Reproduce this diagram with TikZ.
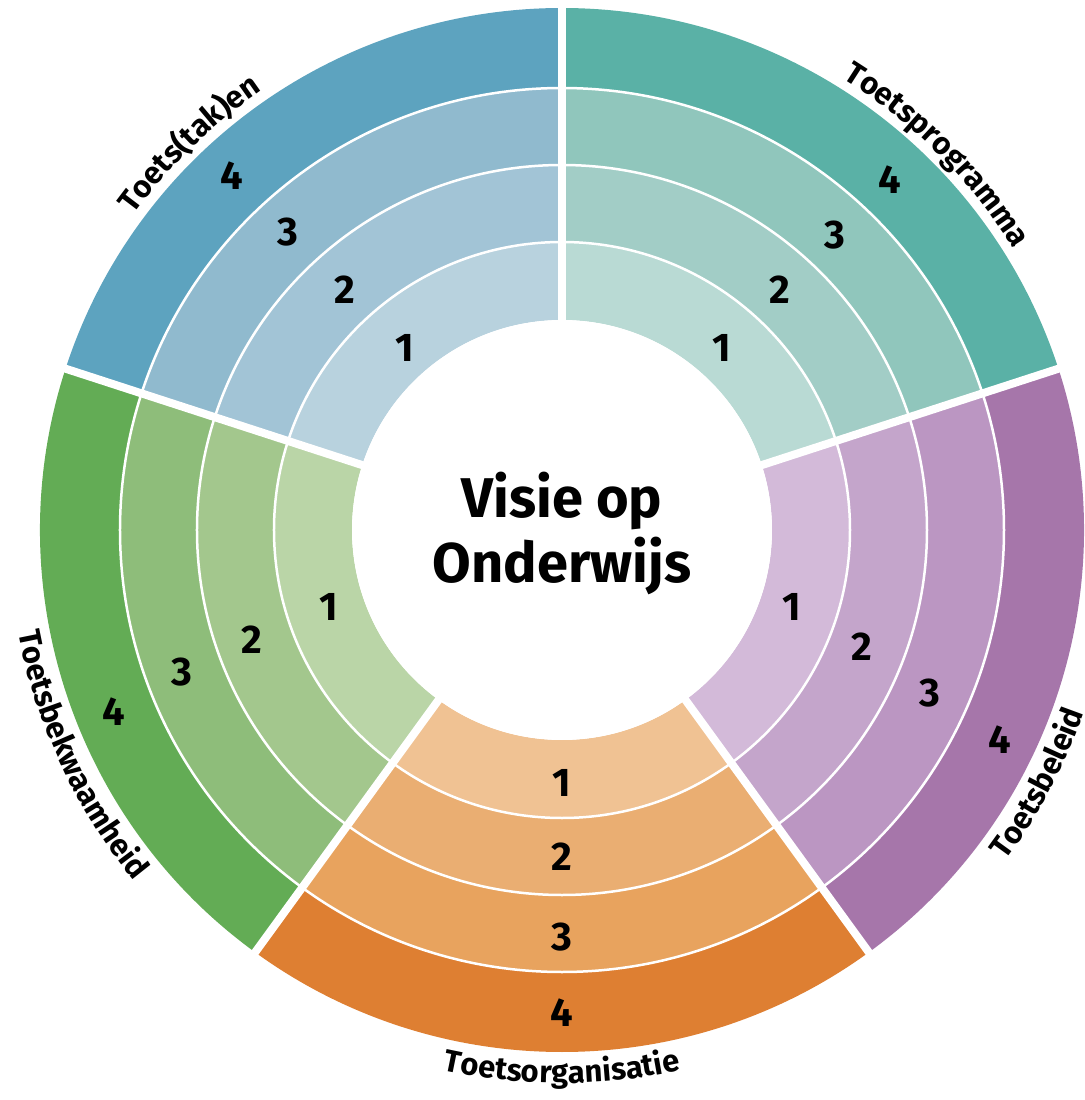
\documentclass[tikz,border=0pt]{standalone}
\usepackage{fontspec}
\setmainfont{Fira Sans}
\usepackage{tikz}
\usetikzlibrary{decorations.text}

% ring colours, 1 = inner, 4 = outer
\definecolor{blu1}{RGB}{184,210,222}
\definecolor{blu2}{RGB}{162,196,214}
\definecolor{blu3}{RGB}{144,186,206}
\definecolor{blu4}{RGB}{93,163,191}
\definecolor{tea1}{RGB}{185,218,212}
\definecolor{tea2}{RGB}{162,205,198}
\definecolor{tea3}{RGB}{144,198,188}
\definecolor{tea4}{RGB}{90,177,166}
\definecolor{pur1}{RGB}{211,186,217}
\definecolor{pur2}{RGB}{196,165,203}
\definecolor{pur3}{RGB}{187,150,194}
\definecolor{pur4}{RGB}{166,118,170}
\definecolor{ora1}{RGB}{240,194,147}
\definecolor{ora2}{RGB}{234,174,114}
\definecolor{ora3}{RGB}{232,163,94}
\definecolor{ora4}{RGB}{222,127,50}
\definecolor{gre1}{RGB}{186,213,167}
\definecolor{gre2}{RGB}{163,199,141}
\definecolor{gre3}{RGB}{142,189,122}
\definecolor{gre4}{RGB}{99,172,85}

\newcommand{\ringlbl}{\fontsize{31}{32}\selectfont\bfseries}

\tikzset{
  ringnum/.style={font=\fontsize{40}{42}\selectfont\bfseries},
  sepline/.style={white, line width=2.5pt},
  gapline/.style={white, line width=8pt},
  curvelbl/.style={decorate, decoration={text along path, text align=center, text={|\ringlbl|#1}}}
}

\begin{document}
\begin{tikzpicture}[x=1pt,y=1pt]
\useasboundingbox (-562,-570) rectangle (522,530);

%Shape: sectors, four rings each
\foreach \s/\cl in {90/blu,18/tea,-54/pur,-126/ora,162/gre}{
  \foreach \i/\ri/\ro in {1/210/290,2/288/367,3/365/444,4/442/522}{
    \fill[fill=\cl\i] (\s:\ri) arc[start angle=\s, end angle=\s+72, radius=\ri]
      -- ({\s+72}:\ro) arc[start angle=\s+72, end angle=\s, radius=\ro] -- cycle;
  }
}

%Shape: white ring lines and gaps
\foreach \r in {288,365,442}
  \draw[sepline] (0,0) circle[radius=\r];
\foreach \a in {90,18,-54,-126,162}
  \draw[gapline] (0,0) -- (\a:530);
\fill[white] (0,0) circle[radius=210];

% Text Node
\node[align=center, font=\fontsize{56}{65}\selectfont\bfseries] (visie) at (0,-3) {Visie op\\Onderwijs};

% Text Node: ring numbers
\foreach \n/\a/\r in {1/130.8/240,2/132.1/324,3/132.6/405,4/133/484}
  \node[ringnum] (blu\n) at (\a:\r) {\n};
\foreach \n/\a/\r in {1/48.7/242,2/47.8/324,3/47.2/402,4/46.9/480}
  \node[ringnum] (tea\n) at (\a:\r) {\n};
\foreach \n/\a/\r in {1/-18.5/242,2/-21.3/322,3/-23.9/402,4/-25.6/486}
  \node[ringnum] (pur\n) at (\a:\r) {\n};
\foreach \n/\a/\r in {1/-90/253,2/-90/327,3/-90/407,4/-90/483}
  \node[ringnum] (ora\n) at (\a:\r) {\n};
\foreach \n/\a/\r in {1/198.2/246,2/199.5/329,3/200.5/406,4/202.1/484}
  \node[ringnum] (gre\n) at (\a:\r) {\n};

% Text: curved labels
\path[curvelbl={Toets(tak)en}] (153:532) arc[start angle=153, end angle=115, radius=532];
\path[curvelbl={Toetsprogramma}] (67:532) arc[start angle=67, end angle=23, radius=532];
\path[curvelbl={Toetsbekwaamheid}] (183:553) arc[start angle=183, end angle=227, radius=553];
\path[curvelbl={Toetsorganisatie}] (-112:553) arc[start angle=-112, end angle=-68, radius=553];
\path[curvelbl={Toetsbeleid}] (-47:553) arc[start angle=-47, end angle=-9, radius=553];
\end{tikzpicture}
\end{document}
